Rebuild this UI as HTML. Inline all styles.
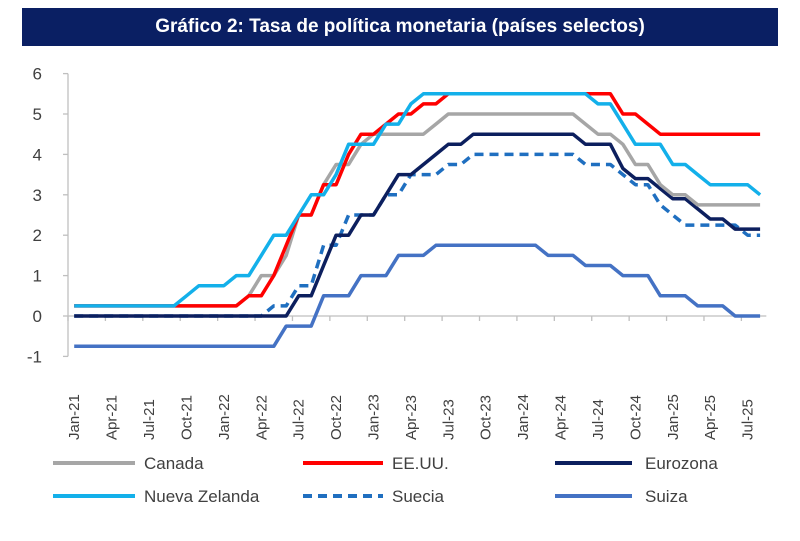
<!DOCTYPE html>
<html><head><meta charset="utf-8"><style>
body{margin:0;background:#fff;width:800px;height:541px;overflow:hidden;font-family:"Liberation Sans",sans-serif}
#title{position:absolute;left:22px;top:8px;width:756px;height:38px;background:#0a1f63;color:#fff;font-weight:bold;font-size:19px;text-align:center;line-height:38px}
</style></head><body>
<div id="title">Gráfico 2: Tasa de política monetaria (países selectos)</div>
<svg id="chart" width="800" height="541" style="position:absolute;left:0;top:0"></svg>
<script>
const months=["Jan","Feb","Mar","Apr","May","Jun","Jul","Aug","Sep","Oct","Nov","Dec"];
const categories=[];for(let y=21;y<=25;y++)for(let m=0;m<12;m++){if(y===25&&m>7)break;categories.push(months[m]+"-"+y);}
const yTicks=[-1,0,1,2,3,4,5,6];
const canada=[0.25,0.25,0.25,0.25,0.25,0.25,0.25,0.25,0.25,0.25,0.25,0.25,0.25,0.25,0.5,1,1,1.5,2.5,2.5,3.25,3.75,3.75,4.25,4.5,4.5,4.5,4.5,4.5,4.75,5,5,5,5,5,5,5,5,5,5,5,4.75,4.5,4.5,4.25,3.75,3.75,3.25,3,3,2.75,2.75,2.75,2.75,2.75,2.75];
const usa=[0.25,0.25,0.25,0.25,0.25,0.25,0.25,0.25,0.25,0.25,0.25,0.25,0.25,0.25,0.5,0.5,1,1.75,2.5,2.5,3.25,3.25,4,4.5,4.5,4.75,5,5,5.25,5.25,5.5,5.5,5.5,5.5,5.5,5.5,5.5,5.5,5.5,5.5,5.5,5.5,5.5,5.5,5,5,4.75,4.5,4.5,4.5,4.5,4.5,4.5,4.5,4.5,4.5];
const eurozone=[0,0,0,0,0,0,0,0,0,0,0,0,0,0,0,0,0,0,0.5,0.5,1.25,2,2,2.5,2.5,3,3.5,3.5,3.75,4,4.25,4.25,4.5,4.5,4.5,4.5,4.5,4.5,4.5,4.5,4.5,4.25,4.25,4.25,3.65,3.4,3.4,3.15,2.9,2.9,2.65,2.4,2.4,2.15,2.15,2.15];
const newZealand=[0.25,0.25,0.25,0.25,0.25,0.25,0.25,0.25,0.25,0.5,0.75,0.75,0.75,1,1,1.5,2,2,2.5,3,3,3.5,4.25,4.25,4.25,4.75,4.75,5.25,5.5,5.5,5.5,5.5,5.5,5.5,5.5,5.5,5.5,5.5,5.5,5.5,5.5,5.5,5.25,5.25,4.75,4.25,4.25,4.25,3.75,3.75,3.5,3.25,3.25,3.25,3.25,3];
const sweden=[0,0,0,0,0,0,0,0,0,0,0,0,0,0,0,0,0.25,0.25,0.75,0.75,1.75,1.75,2.5,2.5,2.5,3,3,3.5,3.5,3.5,3.75,3.75,4,4,4,4,4,4,4,4,4,3.75,3.75,3.75,3.5,3.25,3.25,2.75,2.5,2.25,2.25,2.25,2.25,2.25,2,2];
const switzerland=[-0.75,-0.75,-0.75,-0.75,-0.75,-0.75,-0.75,-0.75,-0.75,-0.75,-0.75,-0.75,-0.75,-0.75,-0.75,-0.75,-0.75,-0.25,-0.25,-0.25,0.5,0.5,0.5,1,1,1,1.5,1.5,1.5,1.75,1.75,1.75,1.75,1.75,1.75,1.75,1.75,1.75,1.5,1.5,1.5,1.25,1.25,1.25,1,1,1,0.5,0.5,0.5,0.25,0.25,0.25,0,0,0];
const seriesNames=["Canada","EE.UU.","Eurozona","Nueva Zelanda","Suecia","Suiza"];
const seriesData=[canada,usa,eurozone,newZealand,sweden,switzerland];
const seriesColors=["#a6a6a6","#ff0000","#0c1f5e","#13b0ea","#1f6fc0","#4472c4"];
const seriesKeys=["canada","usa","eurozone","new-zealand","sweden","switzerland"];
const drawOrder=[4,2,5,0,1,3];
const svg=document.getElementById('chart');const NS="http://www.w3.org/2000/svg";
const X0=68,CW=12.47,Y0=316,YU=40.4;
const xs=i=>X0+CW*(i+0.5);const ys=v=>Y0-v*YU;
function mk(t,a,p){const e=document.createElementNS(NS,t);for(const k in a)e.setAttribute(k,a[k]);(p||svg).appendChild(e);return e;}
const ax=mk('line',{x1:X0,y1:ys(6),x2:X0,y2:ys(-1),stroke:'#bfbfbf','stroke-width':1.3});


yTicks.forEach(v=>{const t=mk('line',{x1:X0-5,x2:X0,y1:ys(v),y2:ys(v),stroke:'#bfbfbf','stroke-width':1.3});


const l=mk('text',{x:X0-26,y:ys(v)+6,'text-anchor':'end','font-size':17,fill:'#404040'});l.textContent=v;

});
const xa=mk('line',{x1:X0,y1:Y0,x2:X0+CW*categories.length,y2:Y0,stroke:'#bfbfbf','stroke-width':1.3});


for(let i=0;i<=categories.length;i+=3){const t=mk('line',{x1:X0+CW*i,x2:X0+CW*i,y1:Y0,y2:Y0+5,stroke:'#bfbfbf','stroke-width':1.3});

}
categories.forEach((c,i)=>{if(i%3)return;const x=xs(i)+5,y=440;const l=mk('text',{x:x,y:y,transform:`rotate(-90 ${x} ${y})`,'font-size':15,fill:'#404040'});l.textContent=c;

});
drawOrder.forEach(s=>{const d=seriesData[s].map((v,i)=>(i?'L':'M')+xs(i).toFixed(1)+' '+ys(v).toFixed(1)).join(' ');
const p=mk('path',{d:d,fill:'none',stroke:seriesColors[s],'stroke-width':3.5,'stroke-linejoin':'round'});
if(s===4)p.setAttribute('stroke-dasharray','9 6');

});
const legX=[[53,135,144],[303,383,392],[555,632,645]],legY=[463,496];
seriesNames.forEach((n,s)=>{const c=legX[s%3],y=legY[Math.floor(s/3)];
const g=mk('g',{});


const l=mk('line',{x1:c[0],x2:c[1],y1:y,y2:y,stroke:seriesColors[s],'stroke-width':4},g);
if(s===4)l.setAttribute('stroke-dasharray','9 6');
const t=mk('text',{x:c[2],y:y+6,'font-size':17,fill:'#404040'},g);t.textContent=n;});
</script>
</body></html>
